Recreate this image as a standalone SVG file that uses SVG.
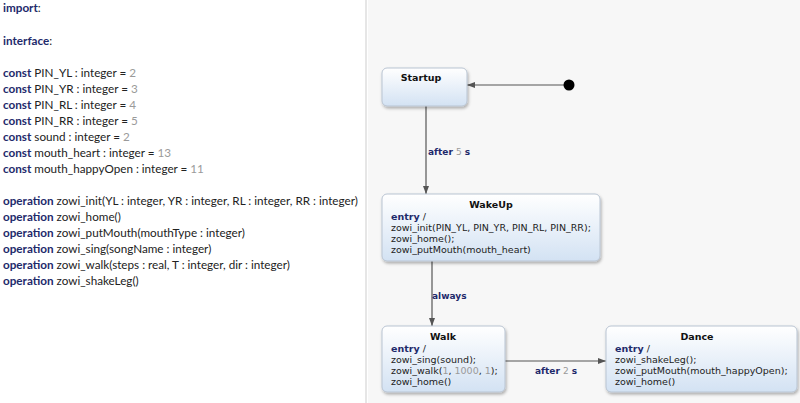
<svg xmlns="http://www.w3.org/2000/svg" width="800" height="403" viewBox="0 0 800 403">
<defs>
<linearGradient id="g" x1="0" y1="0" x2="0" y2="1">
<stop offset="0" stop-color="#ffffff"/>
<stop offset="1" stop-color="#d3e2f3"/>
</linearGradient>
<filter id="sh" x="-10%" y="-10%" width="125%" height="130%">
<feDropShadow dx="1" dy="2" stdDeviation="1.5" flood-color="#000" flood-opacity="0.3"/>
</filter>
<marker id="ar" viewBox="0 0 8 8" refX="8" refY="4" markerWidth="8" markerHeight="8" markerUnits="userSpaceOnUse" orient="auto">
<path d="M0,1 L8,4 L0,7 Z" fill="#555"/>
</marker>
<style>
.code{font-family:Lato,"Open Sans",sans-serif;font-size:11.7px;fill:#222}
.kw{font-weight:bold;fill:#1e2a6b}
.num{fill:#9a9a9a}
.st{fill:url(#g);stroke:#b9c4d2;stroke-width:1;filter:url(#sh)}
.tt{font-family:"DejaVu Sans",Verdana,sans-serif;font-size:9.5px;font-weight:bold;fill:#111;text-anchor:middle}
.bd{font-family:"DejaVu Sans",Verdana,sans-serif;font-size:9.5px;fill:#222}
.lbl{font-family:"DejaVu Sans",Verdana,sans-serif;font-size:9px;font-weight:bold;fill:#1e2a6b}
.ent{font-weight:bold;fill:#1e2a6b}
.cn{stroke:#555;stroke-width:1.2;fill:none;marker-end:url(#ar)}
</style>
</defs>
<rect width="800" height="403" fill="#ffffff"/>
<rect x="368" y="0" width="432" height="403" fill="#f7f7f7"/>
<line x1="366" y1="0" x2="366" y2="403" stroke="#e6e6e6" stroke-width="2"/>
<g id="code">
<text class="code" x="3" y="11.5"><tspan class="kw">import</tspan>:</text>
<text class="code" x="3" y="44.5"><tspan class="kw">interface</tspan>:</text>
<text class="code" x="3" y="76.5"><tspan class="kw">const</tspan> PIN_YL : integer = <tspan class="num">2</tspan></text>
<text class="code" x="3" y="92.5"><tspan class="kw">const</tspan> PIN_YR : integer = <tspan class="num">3</tspan></text>
<text class="code" x="3" y="108.5"><tspan class="kw">const</tspan> PIN_RL : integer = <tspan class="num">4</tspan></text>
<text class="code" x="3" y="124.5"><tspan class="kw">const</tspan> PIN_RR : integer = <tspan class="num">5</tspan></text>
<text class="code" x="3" y="140.5"><tspan class="kw">const</tspan> sound : integer = <tspan class="num">2</tspan></text>
<text class="code" x="3" y="156.5"><tspan class="kw">const</tspan> mouth_heart : integer = <tspan class="num">13</tspan></text>
<text class="code" x="3" y="172.5"><tspan class="kw">const</tspan> mouth_happyOpen : integer = <tspan class="num">11</tspan></text>
<text class="code" x="3" y="204.5"><tspan class="kw">operation</tspan> zowi_init(YL : integer, YR : integer, RL : integer, RR : integer)</text>
<text class="code" x="3" y="220.5"><tspan class="kw">operation</tspan> zowi_home()</text>
<text class="code" x="3" y="236.5"><tspan class="kw">operation</tspan> zowi_putMouth(mouthType : integer)</text>
<text class="code" x="3" y="252.5"><tspan class="kw">operation</tspan> zowi_sing(songName : integer)</text>
<text class="code" x="3" y="268.5"><tspan class="kw">operation</tspan> zowi_walk(steps : real, T : integer, dir : integer)</text>
<text class="code" x="3" y="284.5"><tspan class="kw">operation</tspan> zowi_shakeLeg()</text>
</g>
<g id="connectors">
<line class="cn" x1="564" y1="85" x2="467" y2="85"/>
<line class="cn" x1="426" y1="106" x2="426" y2="194"/>
<line class="cn" x1="432" y1="261" x2="432" y2="326"/>
<line class="cn" x1="505" y1="361" x2="606" y2="361"/>
<text class="lbl" x="428" y="155">after <tspan fill="#9a9a9a" font-weight="normal">5</tspan> s</text>
<text class="lbl" x="432" y="299">always</text>
<text class="lbl" x="535" y="374">after <tspan fill="#9a9a9a" font-weight="normal">2</tspan> s</text>
</g>
<g id="initial">
<circle cx="569" cy="85" r="5.5" fill="#000"/>
</g>
<g id="Startup">
<rect class="st" x="382" y="68" width="85" height="38" rx="5"/>
<text class="tt" x="421" y="81">Startup</text>
</g>
<g id="WakeUp">
<rect class="st" x="382" y="194" width="218" height="67" rx="5"/>
<text class="tt" x="491" y="208">WakeUp</text>
<text class="bd" x="391" y="220"><tspan class="ent">entry</tspan> /</text>
<text class="bd" x="391" y="231">zowi_init(PIN_YL, PIN_YR, PIN_RL, PIN_RR);</text>
<text class="bd" x="391" y="242">zowi_home();</text>
<text class="bd" x="391" y="253">zowi_putMouth(mouth_heart)</text>
</g>
<g id="Walk">
<rect class="st" x="382" y="326" width="123" height="66" rx="5"/>
<text class="tt" x="443" y="340">Walk</text>
<text class="bd" x="391" y="352"><tspan class="ent">entry</tspan> /</text>
<text class="bd" x="391" y="363">zowi_sing(sound);</text>
<text class="bd" x="391" y="374">zowi_walk(<tspan fill="#9a9a9a">1</tspan>, <tspan fill="#9a9a9a">1000</tspan>, <tspan fill="#9a9a9a">1</tspan>);</text>
<text class="bd" x="391" y="385">zowi_home()</text>
</g>
<g id="Dance">
<rect class="st" x="606" y="326" width="191" height="66" rx="5"/>
<text class="tt" x="697" y="340">Dance</text>
<text class="bd" x="615" y="352"><tspan class="ent">entry</tspan> /</text>
<text class="bd" x="615" y="363">zowi_shakeLeg();</text>
<text class="bd" x="615" y="374">zowi_putMouth(mouth_happyOpen);</text>
<text class="bd" x="615" y="385">zowi_home()</text>
</g>
</svg>
